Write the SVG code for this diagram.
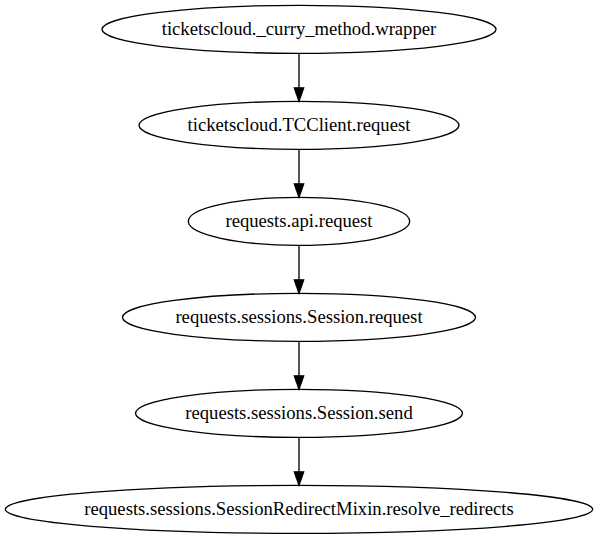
<svg xmlns="http://www.w3.org/2000/svg" width="598" height="539" viewBox="0 0 598 539">
<style>
.n ellipse{fill:none;stroke:#000;stroke-width:1}
.n text{font-family:"Liberation Serif","Times New Roman",serif;font-size:14px;text-anchor:middle;fill:#000}
.e line{stroke:#000;stroke-width:1}
.e polygon{fill:#000;stroke:#000;stroke-width:1}
</style>
<rect width="598" height="539" fill="#fff"/>
<g transform="scale(1.33333)">
<g id="n1" class="n"><ellipse cx="224.25" cy="22" rx="147.8" ry="18"/><text x="224.25" y="26.2">ticketscloud._curry_method.wrapper</text></g>
<g id="n2" class="n"><ellipse cx="224.25" cy="94" rx="120" ry="18"/><text x="224.25" y="98.2">ticketscloud.TCClient.request</text></g>
<g id="n3" class="n"><ellipse cx="224.25" cy="166" rx="83" ry="18"/><text x="224.25" y="170.2">requests.api.request</text></g>
<g id="n4" class="n"><ellipse cx="224.25" cy="238" rx="132.4" ry="18"/><text x="224.25" y="242.2">requests.sessions.Session.request</text></g>
<g id="n5" class="n"><ellipse cx="224.25" cy="310" rx="122.6" ry="18"/><text x="224.25" y="314.2">requests.sessions.Session.send</text></g>
<g id="n6" class="n"><ellipse cx="224.25" cy="382" rx="220.25" ry="18"/><text x="224.25" y="386.2">requests.sessions.SessionRedirectMixin.resolve_redirects</text></g>
<g id="edges" class="e">
<line x1="224.25" y1="40" x2="224.25" y2="65.9"/><polygon points="220.75,65.9 227.75,65.9 224.25,75.9"/>
<line x1="224.25" y1="112" x2="224.25" y2="137.9"/><polygon points="220.75,137.9 227.75,137.9 224.25,147.9"/>
<line x1="224.25" y1="184" x2="224.25" y2="209.9"/><polygon points="220.75,209.9 227.75,209.9 224.25,219.9"/>
<line x1="224.25" y1="256" x2="224.25" y2="281.9"/><polygon points="220.75,281.9 227.75,281.9 224.25,291.9"/>
<line x1="224.25" y1="328" x2="224.25" y2="353.9"/><polygon points="220.75,353.9 227.75,353.9 224.25,363.9"/>
</g>
</g>
</svg>
